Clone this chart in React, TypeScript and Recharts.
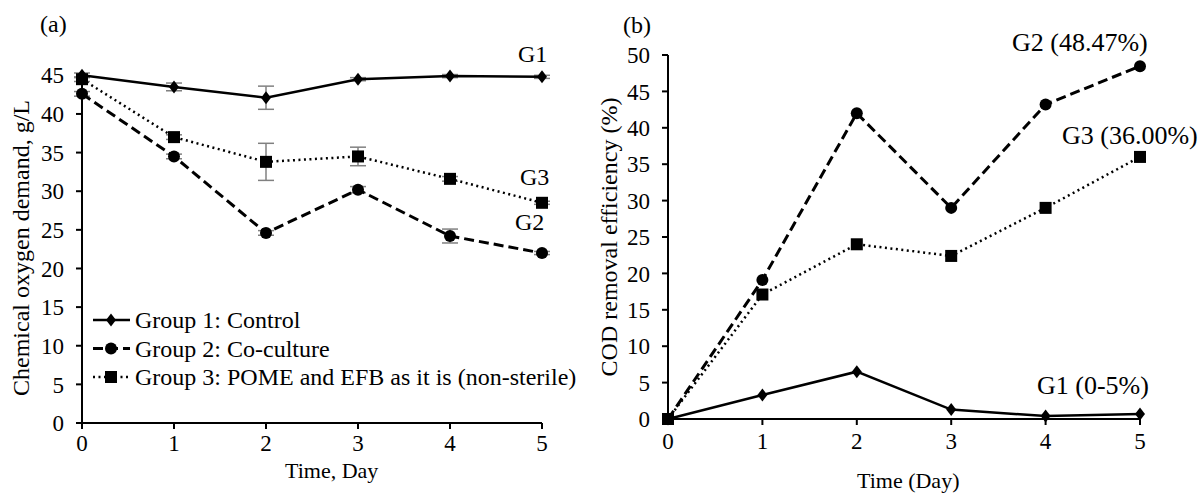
import { LineChart, Line, XAxis, YAxis, ErrorBar } from 'recharts';

const days = [0, 1, 2, 3, 4, 5];
const dayTicks = [0, 1, 2, 3, 4, 5];
const codTicks = [0, 5, 10, 15, 20, 25, 30, 35, 40, 45];
const removalTicks = [0, 5, 10, 15, 20, 25, 30, 35, 40, 45, 50];

// (a) chemical oxygen demand, g/L
const codG1 = [45.0, 43.5, 42.1, 44.5, 44.9, 44.8];
const codG1Err = [0.3, 0.5, 1.5, 0.2, 0.2, 0.2];
const codG2 = [42.6, 34.5, 24.6, 30.2, 24.2, 22.0];
const codG2Err = [0.3, 0.3, 0.3, 0.4, 0.9, 0.2];
const codG3 = [44.5, 37.0, 33.8, 34.5, 31.6, 28.5];
const codG3Err = [0.3, 0.3, 2.4, 1.2, 0.3, 0.2];

// (b) COD removal efficiency, %
const remG1 = [0, 3.3, 6.5, 1.3, 0.4, 0.7];
const remG2 = [0, 19.1, 42.0, 29.0, 43.2, 48.47];
const remG3 = [0, 17.1, 24.0, 22.4, 29.0, 36.0];

const legendNames = ['Group 1: Control', 'Group 2: Co-culture', 'Group 3: POME and EFB as it is (non-sterile)'];

const FONT = '"Liberation Serif", "Times New Roman", Times, serif';
const TICK_FS = 23;

const codData = days.map((d, i) => ({
  day: d,
  g1: codG1[i], g1Err: codG1Err[i],
  g2: codG2[i], g2Err: codG2Err[i],
  g3: codG3[i], g3Err: codG3Err[i],
}));

const remData = days.map((d, i) => ({ day: d, g1: remG1[i], g2: remG2[i], g3: remG3[i] }));

const diamondPath = (x: number, y: number) => `M${x},${y - 6.5}L${x + 5},${y}L${x},${y + 6.5}L${x - 5},${y}Z`;

const Diamond = (p: any) =>
  p.cx == null ? null : <path key={`dm${p.index}`} d={diamondPath(p.cx, p.cy)} fill="#000" />;
const Circle = (p: any) =>
  p.cx == null ? null : <circle key={`ci${p.index}`} cx={p.cx} cy={p.cy} r={6} fill="#000" />;
const Square = (p: any) =>
  p.cx == null ? null : <rect key={`sq${p.index}`} x={p.cx - 6} y={p.cy - 6} width={12} height={12} fill="#000" />;

const G2_DASH = '10 5';
const G3_DASH = '2 3.5';

// legend for panel (a), drawn over the chart so it takes no room from the plot
function LegendBox() {
  const dashes = [undefined, G2_DASH, G3_DASH];
  const widths = [2.5, 3, 2.5];
  return (
    <svg width={520} height={90} style={{ position: 'absolute', left: 90, top: 306, overflow: 'visible' }}>
      {legendNames.map((name, i) => {
        const y = 14 + i * 28.5;
        return (
          <g key={name}>
            <line x1={3} x2={40} y1={y} y2={y} stroke="#000" strokeWidth={widths[i]} strokeDasharray={dashes[i]} />
            {i === 0 && <path d={diamondPath(21, y)} fill="#000" />}
            {i === 1 && <circle cx={21} cy={y} r={6} fill="#000" />}
            {i === 2 && <rect x={15} y={y - 6} width={12} height={12} fill="#000" />}
            <text x={45} y={y + 8} fontFamily={FONT} fontSize={24} fill="#000">{name}</text>
          </g>
        );
      })}
    </svg>
  );
}

const axisProps = {
  stroke: '#000',
  strokeWidth: 2,
  interval: 0 as const,
  tick: { fill: '#000', fontSize: TICK_FS, fontFamily: FONT },
  tickLine: { stroke: '#000', strokeWidth: 2 },
};

// baseline-anchored label: top = baseline - 0.8375 * size for Liberation Serif with line-height 1
const txt = (s: string, left: number, baseline: number, size: number, extra: any = {}) => (
  <div
    style={{
      position: 'absolute', left, top: baseline - 0.8375 * size, fontSize: size,
      lineHeight: 1, whiteSpace: 'nowrap', ...extra,
    }}
  >
    {s}
  </div>
);

const vtitle = (s: string, cx: number, cy: number, size: number) => (
  <div
    style={{
      position: 'absolute', left: cx, top: cy, fontSize: size, lineHeight: 1, whiteSpace: 'nowrap',
      transform: 'translate(-50%, -50%) rotate(-90deg)',
    }}
  >
    {s}
  </div>
);

export default function App() {
  return (
    <div style={{ position: 'absolute', left: 0, top: 0, width: 1201, height: 493, background: '#fff', fontFamily: FONT, color: '#000' }}>
      <div style={{ position: 'absolute', left: 0, top: 0 }}>
        <LineChart width={600} height={493} data={codData} margin={{ top: 73, right: 58, bottom: 30, left: 0 }}>
          <XAxis dataKey="day" type="number" domain={[0, 5]} ticks={dayTicks} height={40} tickMargin={6} {...axisProps} />
          <YAxis type="number" domain={[0, 45]} ticks={codTicks} width={82} tickMargin={12} {...axisProps} />
          <Line dataKey="g2" stroke="#000" strokeWidth={3} strokeDasharray={G2_DASH} dot={Circle} isAnimationActive={false}>
            <ErrorBar dataKey="g2Err" direction="y" width={8} stroke="#808080" strokeWidth={1.5} />
          </Line>
          <Line dataKey="g3" stroke="#000" strokeWidth={2.5} strokeDasharray={G3_DASH} dot={Square} isAnimationActive={false}>
            <ErrorBar dataKey="g3Err" direction="y" width={8} stroke="#808080" strokeWidth={1.5} />
          </Line>
          <Line dataKey="g1" stroke="#000" strokeWidth={2.5} dot={Diamond} isAnimationActive={false}>
            <ErrorBar dataKey="g1Err" direction="y" width={8} stroke="#808080" strokeWidth={1.5} />
          </Line>
        </LineChart>
      </div>
      <div style={{ position: 'absolute', left: 600, top: 0 }}>
        <LineChart width={601} height={493} data={remData} margin={{ top: 55, right: 61, bottom: 34, left: 0 }}>
          <XAxis dataKey="day" type="number" domain={[0, 5]} ticks={dayTicks} height={40} tickMargin={8} {...axisProps} />
          <YAxis type="number" domain={[0, 50]} ticks={removalTicks} width={68} tickMargin={12} {...axisProps} />
          <Line dataKey="g1" stroke="#000" strokeWidth={2.5} dot={Diamond} isAnimationActive={false} />
          <Line dataKey="g2" stroke="#000" strokeWidth={3} strokeDasharray={G2_DASH} dot={Circle} isAnimationActive={false} />
          <Line dataKey="g3" stroke="#000" strokeWidth={2.5} strokeDasharray={G3_DASH} dot={Square} isAnimationActive={false} />
        </LineChart>
      </div>

      <LegendBox />

      {txt('(a)', 40, 32, 24)}
      {txt('(b)', 623, 33, 24)}
      {txt('G1', 518, 62, 24)}
      {txt('G3', 520, 185, 24)}
      {txt('G2', 515, 230, 24)}
      {txt('G2 (48.47%)', 1012, 52, 26)}
      {txt('G3 (36.00%)', 1062, 145, 26)}
      {txt('G1 (0-5%)', 1037, 395, 26)}
      {txt('Time, Day', 285, 478, 22)}
      {txt('Time (Day)', 857, 488, 22)}
      {vtitle('Chemical oxygen demand, g/L', 21, 248, 24)}
      {vtitle('COD removal efficiency (%)', 609, 237, 24)}
    </div>
  );
}
